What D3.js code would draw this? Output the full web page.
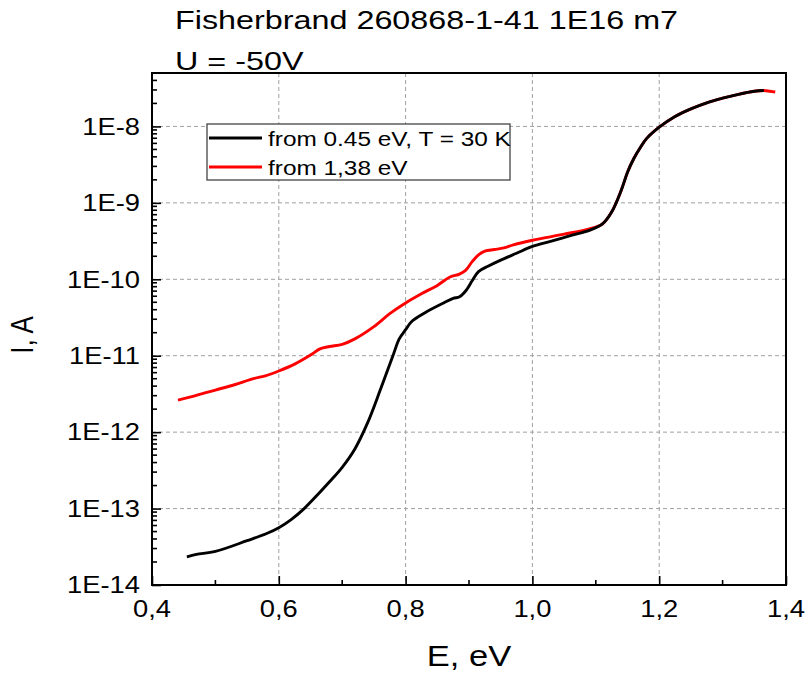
<!DOCTYPE html>
<html>
<head>
<meta charset="utf-8">
<script src="https://cdn.jsdelivr.net/npm/d3@7"></script>
<style>
  html, body { margin: 0; padding: 0; background: #fff; }
  svg text { font-family: Arial, "Liberation Sans", sans-serif; fill: #000; }
</style>
</head>
<body>
<svg id="chart" width="807" height="674"></svg>
<script>
// Photocurrent vs photon energy, measured in two sweep directions
const titleLines = ["Fisherbrand 260868-1-41 1E16 m7", "U = -50V"];
const xLabel = "E, eV";
const yLabel = "I, A";

const xTicks = [0.4, 0.6, 0.8, 1.0, 1.2, 1.4];
const xTickLabels = ["0,4", "0,6", "0,8", "1,0", "1,2", "1,4"];
const yTicks = [1e-8, 1e-9, 1e-10, 1e-11, 1e-12, 1e-13, 1e-14];
const yTickLabels = ["1E-8", "1E-9", "1E-10", "1E-11", "1E-12", "1E-13", "1E-14"];

const seriesNames = ["from 0.45 eV, T = 30 K", "from 1,38 eV"];
const seriesColors = ["#000000", "#ff0000"];

// sweep starting at 0.45 eV
const upE = [0.455, 0.47, 0.5, 0.55, 0.58, 0.6, 0.62, 0.64, 0.66, 0.68, 0.7, 0.72, 0.74, 0.76, 0.78, 0.79,
  0.8, 0.81, 0.83, 0.86, 0.875, 0.885, 0.895, 0.905, 0.915, 0.93, 0.95, 0.975, 1.0, 1.03, 1.06, 1.09,
  1.11, 1.125, 1.14, 1.15, 1.16, 1.17, 1.18, 1.2, 1.225, 1.25, 1.275, 1.3, 1.325, 1.35, 1.365];
const upI = [2.34e-14, 2.51e-14, 2.75e-14, 3.80e-14, 4.68e-14, 5.62e-14, 7.24e-14, 1.00e-13, 1.48e-13,
  2.24e-13, 3.47e-13, 6.03e-13, 1.32e-12, 3.55e-12, 1.00e-11, 1.66e-11, 2.19e-11, 2.82e-11, 3.63e-11,
  4.90e-11, 5.62e-11, 5.89e-11, 7.08e-11, 9.55e-11, 1.26e-10, 1.48e-10, 1.78e-10, 2.19e-10, 2.69e-10,
  3.16e-10, 3.72e-10, 4.37e-10, 5.25e-10, 7.59e-10, 1.45e-9, 2.51e-9, 3.80e-9, 5.25e-9, 6.92e-9,
  9.77e-9, 1.35e-8, 1.70e-8, 2.04e-8, 2.34e-8, 2.63e-8, 2.88e-8, 2.95e-8];

// sweep starting at 1.38 eV
const downE = [0.441, 0.47, 0.5, 0.53, 0.56, 0.58, 0.6, 0.625, 0.65, 0.665, 0.68, 0.7, 0.72, 0.75, 0.775,
  0.8, 0.825, 0.85, 0.87, 0.885, 0.895, 0.905, 0.915, 0.925, 0.94, 0.955, 0.97, 1.0, 1.05, 1.09, 1.11,
  1.125, 1.14, 1.15, 1.16, 1.17, 1.18, 1.2, 1.225, 1.25, 1.275, 1.3, 1.325, 1.35, 1.365, 1.375, 1.383];
const downI = [2.63e-12, 3.02e-12, 3.55e-12, 4.17e-12, 5.01e-12, 5.50e-12, 6.31e-12, 7.76e-12, 1.02e-11,
  1.23e-11, 1.32e-11, 1.41e-11, 1.66e-11, 2.40e-11, 3.55e-11, 4.90e-11, 6.46e-11, 8.32e-11, 1.07e-10,
  1.17e-10, 1.32e-10, 1.70e-10, 2.09e-10, 2.34e-10, 2.45e-10, 2.57e-10, 2.82e-10, 3.24e-10, 3.89e-10,
  4.57e-10, 5.25e-10, 7.59e-10, 1.45e-9, 2.51e-9, 3.80e-9, 5.25e-9, 6.92e-9, 9.77e-9, 1.35e-8,
  1.70e-8, 2.04e-8, 2.34e-8, 2.63e-8, 2.88e-8, 2.95e-8, 2.88e-8, 2.82e-8];

const svg = d3.select("#chart");
const plot = { left: 152, right: 786, top: 73, bottom: 585 };
const SX = 1.19; // horizontal glyph stretch used for all text

const x = d3.scaleLinear().domain([0.4, 1.4]).range([plot.left, plot.right]);
const y = d3.scaleLog().domain([1e-14, 5e-8]).range([plot.bottom, plot.top]);

function label(g, txt, px, py, size, anchor, rot, sx) {
  return g.append("text")
    .attr("transform", `translate(${px},${py}) scale(${sx || SX},1)` + (rot ? ` rotate(${rot})` : ""))
    .attr("text-anchor", anchor)
    .attr("font-size", size)
    .text(txt);
}

// grid
const grid = svg.append("g").attr("stroke", "#a0a0a0").attr("stroke-width", 1).attr("stroke-dasharray", "4,3");
grid.selectAll("line.v").data(xTicks.slice(1, -1)).join("line")
  .attr("x1", d => x(d)).attr("x2", d => x(d)).attr("y1", plot.top).attr("y2", plot.bottom);
grid.selectAll("line.h").data(yTicks.slice(0, -1)).join("line")
  .attr("x1", plot.left).attr("x2", plot.right).attr("y1", d => y(d)).attr("y2", d => y(d));

// curves
const line = d3.line().curve(d3.curveCatmullRom.alpha(0.5)).x(d => x(d[0])).y(d => y(d[1]));
const seriesData = [d3.zip(upE, upI), d3.zip(downE, downI)];
[1, 0].forEach(i => {
  svg.append("path").datum(seriesData[i])
    .attr("fill", "none").attr("stroke", seriesColors[i]).attr("stroke-width", 2.9)
    .attr("stroke-linejoin", "round").attr("d", line);
});

// axes with inward ticks
const xMinor = d3.range(0.5, 1.4, 0.2);
const xAxis = d3.axisBottom(x).tickValues(xTicks).tickSize(-9).tickFormat("");
const gx = svg.append("g").attr("transform", `translate(0,${plot.bottom})`).call(xAxis);
gx.append("g").selectAll("line").data(xMinor).join("line")
  .attr("x1", d => x(d)).attr("x2", d => x(d)).attr("y1", 0).attr("y2", -5);

const yMinor = [];
for (let e = -14; e <= -8; e++) for (let m = 2; m <= 9; m++) {
  const v = m * Math.pow(10, e);
  if (v <= 5e-8) yMinor.push(v);
}
const yAxis = d3.axisLeft(y).tickValues(yTicks).tickSize(-9).tickFormat("");
const gy = svg.append("g").attr("transform", `translate(${plot.left},0)`).call(yAxis);
gy.append("g").selectAll("line").data(yMinor).join("line")
  .attr("x1", 0).attr("x2", 5).attr("y1", d => y(d)).attr("y2", d => y(d));

[gx, gy].forEach(g => {
  g.selectAll("line").attr("stroke", "#000").attr("stroke-width", 1.6);
  g.select(".domain").remove();
});

// frame
svg.append("rect").attr("x", plot.left).attr("y", plot.top)
  .attr("width", plot.right - plot.left).attr("height", plot.bottom - plot.top)
  .attr("fill", "none").attr("stroke", "#000").attr("stroke-width", 2);

// tick labels
const tl = svg.append("g");
xTicks.forEach((v, i) => label(tl, xTickLabels[i], x(v), 617, 23, "middle"));
yTicks.forEach((v, i) => label(tl, yTickLabels[i], 140, y(v) + 8.3, 23, "end"));

// axis titles
label(svg, xLabel, (plot.left + plot.right) / 2, 666, 29, "middle");
label(svg, yLabel, 33, 335, 26, "middle", -90);

// title
label(svg, titleLines[0], 175, 29, 26.5, "start", 0, 1.22);
label(svg, titleLines[1], 175, 70, 26.5, "start", 0, 1.22);

// legend
const lg = svg.append("g");
lg.append("rect").attr("x", 207).attr("y", 124).attr("width", 303).attr("height", 56)
  .attr("fill", "#fff").attr("stroke", "#444").attr("stroke-width", 1.3);
seriesNames.forEach((name, i) => {
  const ly = 138 + i * 29;
  lg.append("line").attr("x1", 209).attr("x2", 262).attr("y1", ly).attr("y2", ly)
    .attr("stroke", seriesColors[i]).attr("stroke-width", 2.8);
  label(lg, name, 268, ly + 7.5, 20.5, "start");
});
</script>
</body>
</html>
